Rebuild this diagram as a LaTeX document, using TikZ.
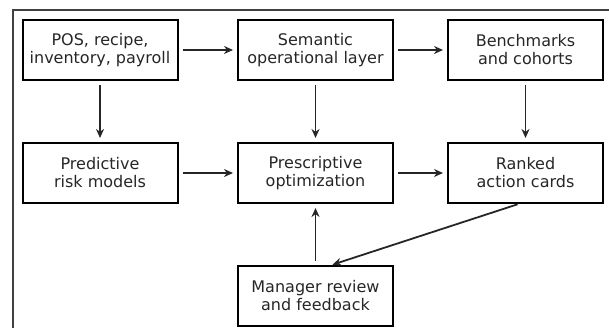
\documentclass[tikz,border=0pt]{standalone}
\usepackage{fontspec}
\setmainfont{DejaVu Sans}
\usetikzlibrary{arrows.meta,calc}
\begin{document}
\begin{tikzpicture}[x=1pt,y=1pt,
  box/.style={draw=black,line width=2pt,minimum width=155pt,minimum height=60pt,inner sep=0pt,align=center,text=black!85,font=\fontsize{16}{18}\selectfont},
  arr/.style={-{Stealth[length=9pt,width=8pt]},line width=1.8pt,black!85,shorten >=4pt,shorten <=4pt}]
\useasboundingbox (0,0) rectangle (609,328);
\draw[black!75,line width=2pt] (13,0) -- (13,318) -- (609,318);
\node[box] (pos) at (100,278) {POS, recipe,\\inventory, payroll};
\node[box] (sem) at (315.5,278) {Semantic\\operational layer};
\node[box] (ben) at (525.5,278) {Benchmarks\\and cohorts};
\node[box] (pred) at (100,155) {Predictive\\risk models};
\node[box] (pres) at (315.5,155) {Prescriptive\\optimization};
\node[box] (rank) at (525.5,155) {Ranked\\action cards};
\node[box] (man) at (315.5,32) {Manager review\\and feedback};
\draw[arr] (pos) -- (sem);
\draw[arr] (sem) -- (ben);
\draw[arr] (pos) -- (pred);
\draw[arr] (sem) -- (pres);
\draw[arr] (ben) -- (rank);
\draw[arr] (pred) -- (pres);
\draw[arr] (pres) -- (rank);
\draw[arr] (man) -- (pres);
\draw[arr,shorten <=1pt,shorten >=1pt] ($(rank.south)+(-7,0)$) -- ($(man.north)+(16,0)$);
\end{tikzpicture}
\end{document}
